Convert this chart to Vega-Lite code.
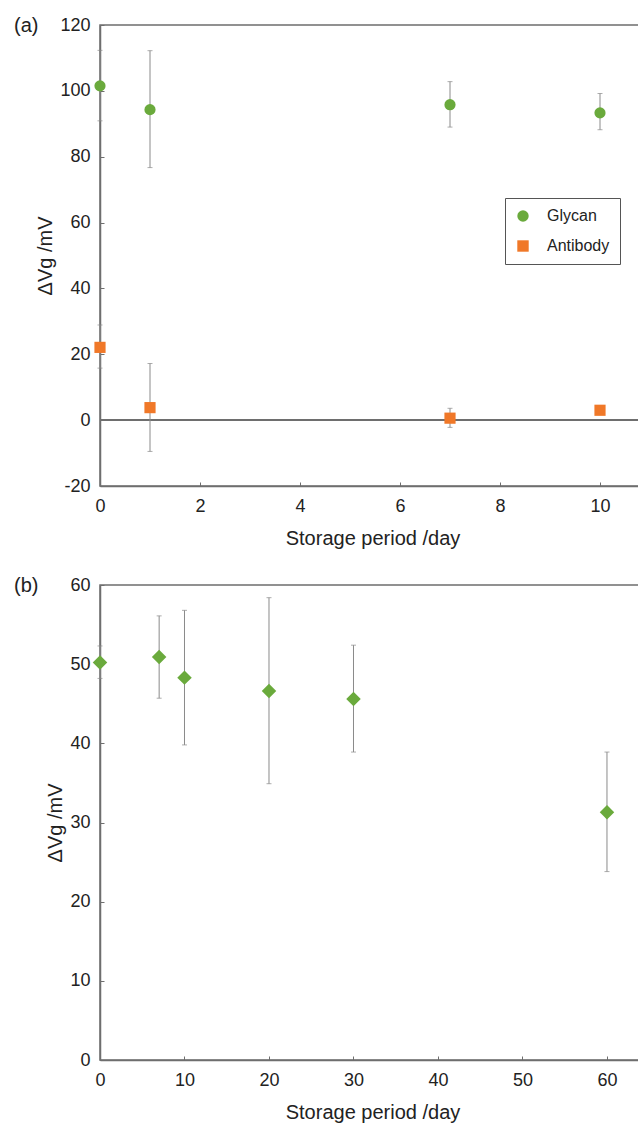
{
  "$schema": "https://vega.github.io/schema/vega-lite/v6.json",
  "padding": {"left": 13, "top": 15, "right": 0, "bottom": 0},
  "config": {
    "font": "Liberation Sans",
    "view": {"stroke": "#6e6e6e", "strokeWidth": 1.5},
    "axis": {
      "grid": false,
      "labelFlush": false,
      "domainColor": "#6e6e6e",
      "domainWidth": 1.5,
      "tickColor": "#6e6e6e",
      "tickSize": -4,
      "labelFontSize": 18,
      "labelColor": "#222222",
      "titleFontSize": 20,
      "titleFontWeight": "normal",
      "titleColor": "#222222"
    },
    "axisX": {"labelPadding": 15, "titlePadding": 13},
    "axisY": {"labelPadding": 14, "titlePadding": 4},
    "title": {"fontSize": 20, "fontWeight": "normal", "anchor": "start", "frame": "group", "color": "#222222"}
  },
  "spacing": 26,
  "vconcat": [
    {
      "title": {"text": "(a)", "dx": -86, "offset": -20},
      "width": 545,
      "height": 461,
      "data": {
        "values": [
          {"series": "Glycan", "day": 0, "dv": 101.5, "lo": 90.9, "hi": 112.3},
          {"series": "Glycan", "day": 1, "dv": 94.3, "lo": 76.7, "hi": 112.2},
          {"series": "Glycan", "day": 7, "dv": 95.8, "lo": 89.0, "hi": 102.8},
          {"series": "Glycan", "day": 10, "dv": 93.3, "lo": 88.2, "hi": 99.2},
          {"series": "Antibody", "day": 0, "dv": 22.1, "lo": 15.8, "hi": 28.9},
          {"series": "Antibody", "day": 1, "dv": 3.8, "lo": -9.5, "hi": 17.2},
          {"series": "Antibody", "day": 7, "dv": 0.6, "lo": -2.2, "hi": 3.6},
          {"series": "Antibody", "day": 10, "dv": 3.0, "lo": 2.0, "hi": 4.0}
        ]
      },
      "layer": [
        {
          "mark": {"type": "rule", "color": "#6e6e6e", "strokeWidth": 1.5},
          "encoding": {
            "y": {"datum": 0, "type": "quantitative", "title": "ΔVg /mV"}
          }
        },
        {
          "mark": {"type": "errorbar", "color": "#8a8a8a", "ticks": {"size": 5, "color": "#8a8a8a"}},
          "encoding": {
            "x": {"field": "day", "type": "quantitative", "title": "Storage period /day"},
            "y": {"field": "lo", "type": "quantitative", "title": "ΔVg /mV"},
            "y2": {"field": "hi"}
          }
        },
        {
          "mark": {"type": "point", "filled": true, "opacity": 1},
          "encoding": {
            "x": {
              "field": "day", "type": "quantitative", "title": "Storage period /day",
              "scale": {"domain": [0, 10.9], "nice": false},
              "axis": {"values": [0, 2, 4, 6, 8, 10]}
            },
            "y": {
              "field": "dv", "type": "quantitative", "title": "ΔVg /mV",
              "scale": {"domain": [-20, 120], "nice": false},
              "axis": {"values": [-20, 0, 20, 40, 60, 80, 100, 120], "labelExpr": "'' + datum.value"}
            },
            "color": {
              "field": "series", "type": "nominal",
              "scale": {"domain": ["Glycan", "Antibody"], "range": ["#6aaa3c", "#f07828"]},
              "legend": {
                "title": null, "orient": "none", "legendX": 405, "legendY": 173,
                "strokeColor": "#555555", "padding": 10, "rowPadding": 14,
                "labelFontSize": 16, "labelOffset": 16, "symbolSize": 130, "labelColor": "#222222"
              }
            },
            "shape": {
              "field": "series", "type": "nominal",
              "scale": {"domain": ["Glycan", "Antibody"], "range": ["circle", "square"]},
              "legend": null
            },
            "size": {"value": 125}
          }
        }
      ]
    },
    {
      "title": {"text": "(b)", "dx": -86, "offset": -20},
      "width": 545,
      "height": 475,
      "data": {
        "values": [
          {"series": "Glycan", "day": 0, "dv": 50.2, "lo": 48.2, "hi": 52.3},
          {"series": "Glycan", "day": 7, "dv": 50.9, "lo": 45.7, "hi": 56.1},
          {"series": "Glycan", "day": 10, "dv": 48.3, "lo": 39.8, "hi": 56.8},
          {"series": "Glycan", "day": 20, "dv": 46.6, "lo": 34.9, "hi": 58.4},
          {"series": "Glycan", "day": 30, "dv": 45.6, "lo": 38.9, "hi": 52.4},
          {"series": "Glycan", "day": 60, "dv": 31.3, "lo": 23.8, "hi": 38.9}
        ]
      },
      "layer": [
        {
          "mark": {"type": "errorbar", "color": "#8a8a8a", "ticks": {"size": 5, "color": "#8a8a8a"}},
          "encoding": {
            "x": {"field": "day", "type": "quantitative", "title": "Storage period /day"},
            "y": {"field": "lo", "type": "quantitative", "title": "ΔVg /mV"},
            "y2": {"field": "hi"}
          }
        },
        {
          "mark": {"type": "point", "shape": "diamond", "filled": true, "opacity": 1, "color": "#6aaa3c", "size": 210},
          "encoding": {
            "x": {
              "field": "day", "type": "quantitative", "title": "Storage period /day",
              "scale": {"domain": [0, 64.5], "nice": false},
              "axis": {"values": [0, 10, 20, 30, 40, 50, 60]}
            },
            "y": {
              "field": "dv", "type": "quantitative", "title": "ΔVg /mV",
              "scale": {"domain": [0, 60], "nice": false},
              "axis": {"values": [0, 10, 20, 30, 40, 50, 60]}
            }
          }
        }
      ]
    }
  ]
}
